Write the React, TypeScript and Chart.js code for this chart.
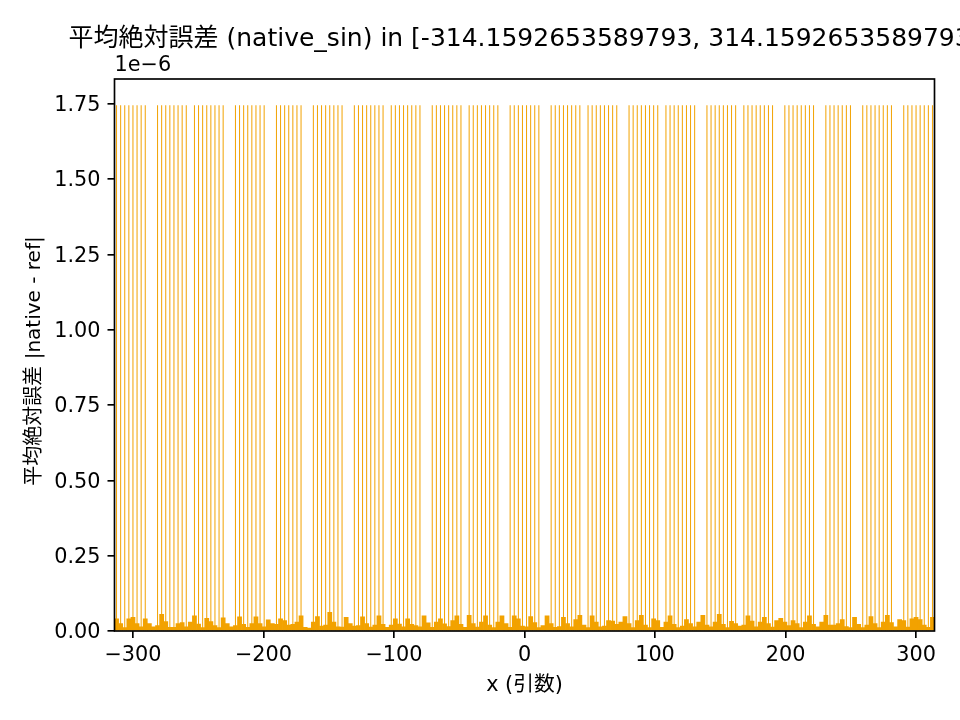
import { useEffect, useRef } from "react";
import { Chart, registerables } from "chart.js";

Chart.register(...registerables);

const FONT = '"DejaVu Sans", "Noto Sans CJK JP", sans-serif';
const BAR_COLOR = "#F2A200";

const TITLE = "平均絶対誤差 (native_sin) in [-314.1592653589793, 314.1592653589793]";
const X_LABEL = "x (引数)";
const Y_LABEL = "平均絶対誤差 |native - ref|";
const Y_OFFSET_TEXT = "1e−6";

const X_MIN = -314.1592653589793;
const X_MAX = 314.1592653589793;

const X_TICKS = [-300, -200, -100, 0, 100, 200, 300];
const X_TICK_LABELS = ["−300", "−200", "−100", "0", "100", "200", "300"];
const Y_TICKS = [0, 0.25, 0.5, 0.75, 1.0, 1.25, 1.5, 1.75];
const Y_TICK_LABELS = ["0.00", "0.25", "0.50", "0.75", "1.00", "1.25", "1.50", "1.75"];

// spike positions (x) where error reaches the peak, values in units of 1e-6
const SPIKE_X = [
  -312.59, -309.45, -306.31, -303.16, -300.02, -296.88, -293.74, -290.6,
  -281.17, -278.03, -274.89, -271.75, -268.61, -265.46, -262.32, -259.18,
  -252.9, -249.76, -246.62, -243.47, -240.33, -237.19, -234.05, -230.91,
  -221.48, -218.34, -215.2, -212.06, -208.92, -205.77, -202.63, -199.49,
  -190.07, -186.92, -183.78, -180.64, -177.5, -174.36, -171.22,
  -161.79, -158.65, -155.51, -152.37, -149.23, -146.08, -142.94, -139.8,
  -130.38, -127.23, -124.09, -120.95, -117.81, -114.67, -111.53, -108.38,
  -102.1, -98.96, -95.82, -92.68, -89.54, -86.39, -83.25, -80.11,
  -70.69, -67.54, -64.4, -61.26, -58.12, -54.98, -51.84, -48.69,
  -42.41, -39.27, -36.13, -32.99, -29.85, -26.7, -23.56, -20.42,
  -11.0, -7.85, -4.71, -1.57, 1.57, 4.71, 7.85, 11.0,
  20.42, 23.56, 26.7, 29.85, 32.99, 36.13, 39.27, 42.41,
  48.69, 51.84, 54.98, 58.12, 61.26, 64.4, 67.54, 70.69,
  80.11, 83.25, 86.39, 89.54, 92.68, 95.82, 98.96, 102.1,
  108.38, 111.53, 114.67, 117.81, 120.95, 124.09, 127.23, 130.38,
  139.8, 142.94, 146.08, 149.23, 152.37, 155.51, 158.65, 161.79,
  168.08, 171.22, 174.36, 177.5, 180.64, 183.78, 186.92, 190.07,
  199.49, 202.63, 205.77, 208.92, 212.06, 215.2, 218.34, 221.48,
  230.91, 234.05, 237.19, 240.33, 243.47, 246.62, 249.76,
  259.18, 262.32, 265.46, 268.61, 271.75, 274.89, 278.03, 281.17,
  290.6, 293.74, 296.88, 300.02, 303.16, 306.31, 309.45, 312.59,
];
const SPIKE_VALUE = 1.745;

// background error level per bin across [X_MIN, X_MAX], units of 1e-6
const NOISE = [
  0.040, 0.025, 0.011, 0.040, 0.045, 0.025, 0.014, 0.040, 0.025, 0.014,
  0.018, 0.055, 0.031, 0.012, 0.012, 0.025, 0.028, 0.014, 0.030, 0.050,
  0.023, 0.011, 0.042, 0.031, 0.018, 0.011, 0.044, 0.025, 0.014, 0.018,
  0.047, 0.022, 0.012, 0.025, 0.047, 0.025, 0.014, 0.037, 0.025, 0.022,
  0.040, 0.035, 0.020, 0.022, 0.030, 0.050, 0.012, 0.010, 0.030, 0.048,
  0.016, 0.020, 0.062, 0.030, 0.014, 0.013, 0.045, 0.025, 0.016, 0.018,
  0.047, 0.025, 0.013, 0.020, 0.050, 0.022, 0.012, 0.020, 0.040, 0.023,
  0.014, 0.040, 0.022, 0.018, 0.014, 0.050, 0.027, 0.012, 0.030, 0.040,
  0.024, 0.015,
  0.035, 0.050, 0.022, 0.012, 0.052, 0.025, 0.013, 0.030, 0.050, 0.020,
  0.011, 0.030, 0.050, 0.025, 0.012, 0.050, 0.040, 0.016, 0.014, 0.048,
  0.028, 0.011, 0.018, 0.050, 0.025, 0.012, 0.015, 0.045, 0.025, 0.014,
  0.038, 0.052, 0.020, 0.011, 0.050, 0.030, 0.014, 0.016, 0.035, 0.033,
  0.022,
  0.030, 0.048, 0.025, 0.011, 0.035, 0.052, 0.020, 0.011, 0.040, 0.035,
  0.012, 0.030, 0.050, 0.022, 0.011, 0.016, 0.038, 0.025, 0.014, 0.030,
  0.052, 0.020, 0.014, 0.030, 0.055, 0.022, 0.011, 0.032, 0.025, 0.016,
  0.020, 0.050, 0.033, 0.014, 0.030, 0.045, 0.025, 0.013, 0.035, 0.042,
  0.030, 0.018,
  0.035, 0.025, 0.011, 0.030, 0.050, 0.022, 0.014, 0.030, 0.052, 0.020,
  0.020, 0.025, 0.038, 0.015, 0.011, 0.045, 0.022, 0.011, 0.020, 0.048,
  0.025, 0.011, 0.030, 0.052, 0.028, 0.014, 0.038, 0.035, 0.013, 0.040,
  0.045, 0.038, 0.020, 0.012, 0.045,
];

const Y_MAX = Math.max(SPIKE_VALUE, ...NOISE) * 1.05;
const BIN_WIDTH = (X_MAX - X_MIN) / NOISE.length;

const LINE_W = 1.67;
const TICK_FONT = { size: 20.8, family: FONT };

const textPlugin = {
  id: "mplText",
  afterDraw(chart: any) {
    const { ctx, chartArea } = chart;
    const { left, right, top, bottom } = chartArea;
    ctx.save();
    ctx.strokeStyle = "#000";
    ctx.lineWidth = LINE_W;
    ctx.strokeRect(left, top, right - left, bottom - top);
    ctx.fillStyle = "#000";
    ctx.textBaseline = "middle";
    ctx.font = `25px ${FONT}`;
    ctx.textAlign = "center";
    ctx.fillText(TITLE, (left + right) / 2, 39);
    ctx.font = `20.8px ${FONT}`;
    ctx.textAlign = "left";
    ctx.fillText(Y_OFFSET_TEXT, left, 66);
    ctx.textAlign = "center";
    ctx.fillText(X_LABEL, (left + right) / 2, 686);
    ctx.font = `20px ${FONT}`;
    ctx.translate(35, (top + bottom) / 2 + 6);
    ctx.rotate(-Math.PI / 2);
    ctx.fillText(Y_LABEL, 0, 0);
    ctx.restore();
  },
};

export default function App() {
  const ref = useRef<HTMLCanvasElement>(null);
  useEffect(() => {
    document.body.style.margin = "0";
    Chart.defaults.font.family = FONT;
    const chart = new Chart(ref.current as HTMLCanvasElement, {
      type: "bar",
      data: {
        datasets: [
          {
            data: SPIKE_X.map((x) => ({ x, y: SPIKE_VALUE })),
            backgroundColor: BAR_COLOR,
            barThickness: 1,
            grouped: false,
            inflateAmount: 0,
            xAxisID: "x2",
            order: 0,
          } as any,
          {
            data: NOISE.map((y, j) => ({ x: X_MIN + (j + 0.5) * BIN_WIDTH, y })),
            backgroundColor: BAR_COLOR,
            barPercentage: 1,
            categoryPercentage: 1,
            grouped: false,
            xAxisID: "x",
            order: 1,
          } as any,
        ],
      },
      options: {
        responsive: false,
        animation: false,
        devicePixelRatio: 1,
        layout: { padding: { left: 0, top: 79, right: 25.5, bottom: 49 } },
        plugins: { legend: { display: false }, tooltip: { enabled: false } },
        scales: {
          x: {
            type: "linear",
            position: "bottom",
            min: X_MIN,
            max: X_MAX,
            offset: false,
            grid: {
              display: true,
              offset: false,
              drawOnChartArea: false,
              drawTicks: true,
              tickLength: 7,
              color: "#000",
              lineWidth: LINE_W,
            },
            border: { display: false },
            ticks: {
              color: "#000",
              font: TICK_FONT,
              padding: 5,
              maxRotation: 0,
              minRotation: 0,
              autoSkip: false,
              callback: (v: any) => X_TICK_LABELS[X_TICKS.indexOf(Number(v))] ?? "",
            },
            afterBuildTicks: (s: any) => {
              s.ticks = X_TICKS.map((value) => ({ value }));
            },
            afterFit: (s: any) => {
              s.height = 40;
            },
          },
          x2: {
            type: "linear",
            display: false,
            min: X_MIN,
            max: X_MAX,
            offset: false,
          },
          y: {
            type: "linear",
            min: 0,
            max: Y_MAX,
            grid: {
              display: true,
              drawOnChartArea: false,
              drawTicks: true,
              tickLength: 7,
              color: "#000",
              lineWidth: LINE_W,
            },
            border: { display: false },
            ticks: {
              color: "#000",
              font: TICK_FONT,
              padding: 7,
              labelOffset: 2,
              callback: (v: any) => {
                const i = Y_TICKS.findIndex((t) => Math.abs(t - Number(v)) < 1e-9);
                return i >= 0 ? Y_TICK_LABELS[i] : "";
              },
            },
            afterBuildTicks: (s: any) => {
              s.ticks = Y_TICKS.map((value) => ({ value }));
            },
            afterFit: (s: any) => {
              s.width = 114.5;
            },
          },
        },
      },
      plugins: [textPlugin],
    });
    return () => chart.destroy();
  }, []);
  return (
    <div style={{ position: "absolute", left: 0, top: 0, width: 960, height: 720 }}>
      <canvas ref={ref} width={960} height={720} style={{ display: "block" }} />
    </div>
  );
}
